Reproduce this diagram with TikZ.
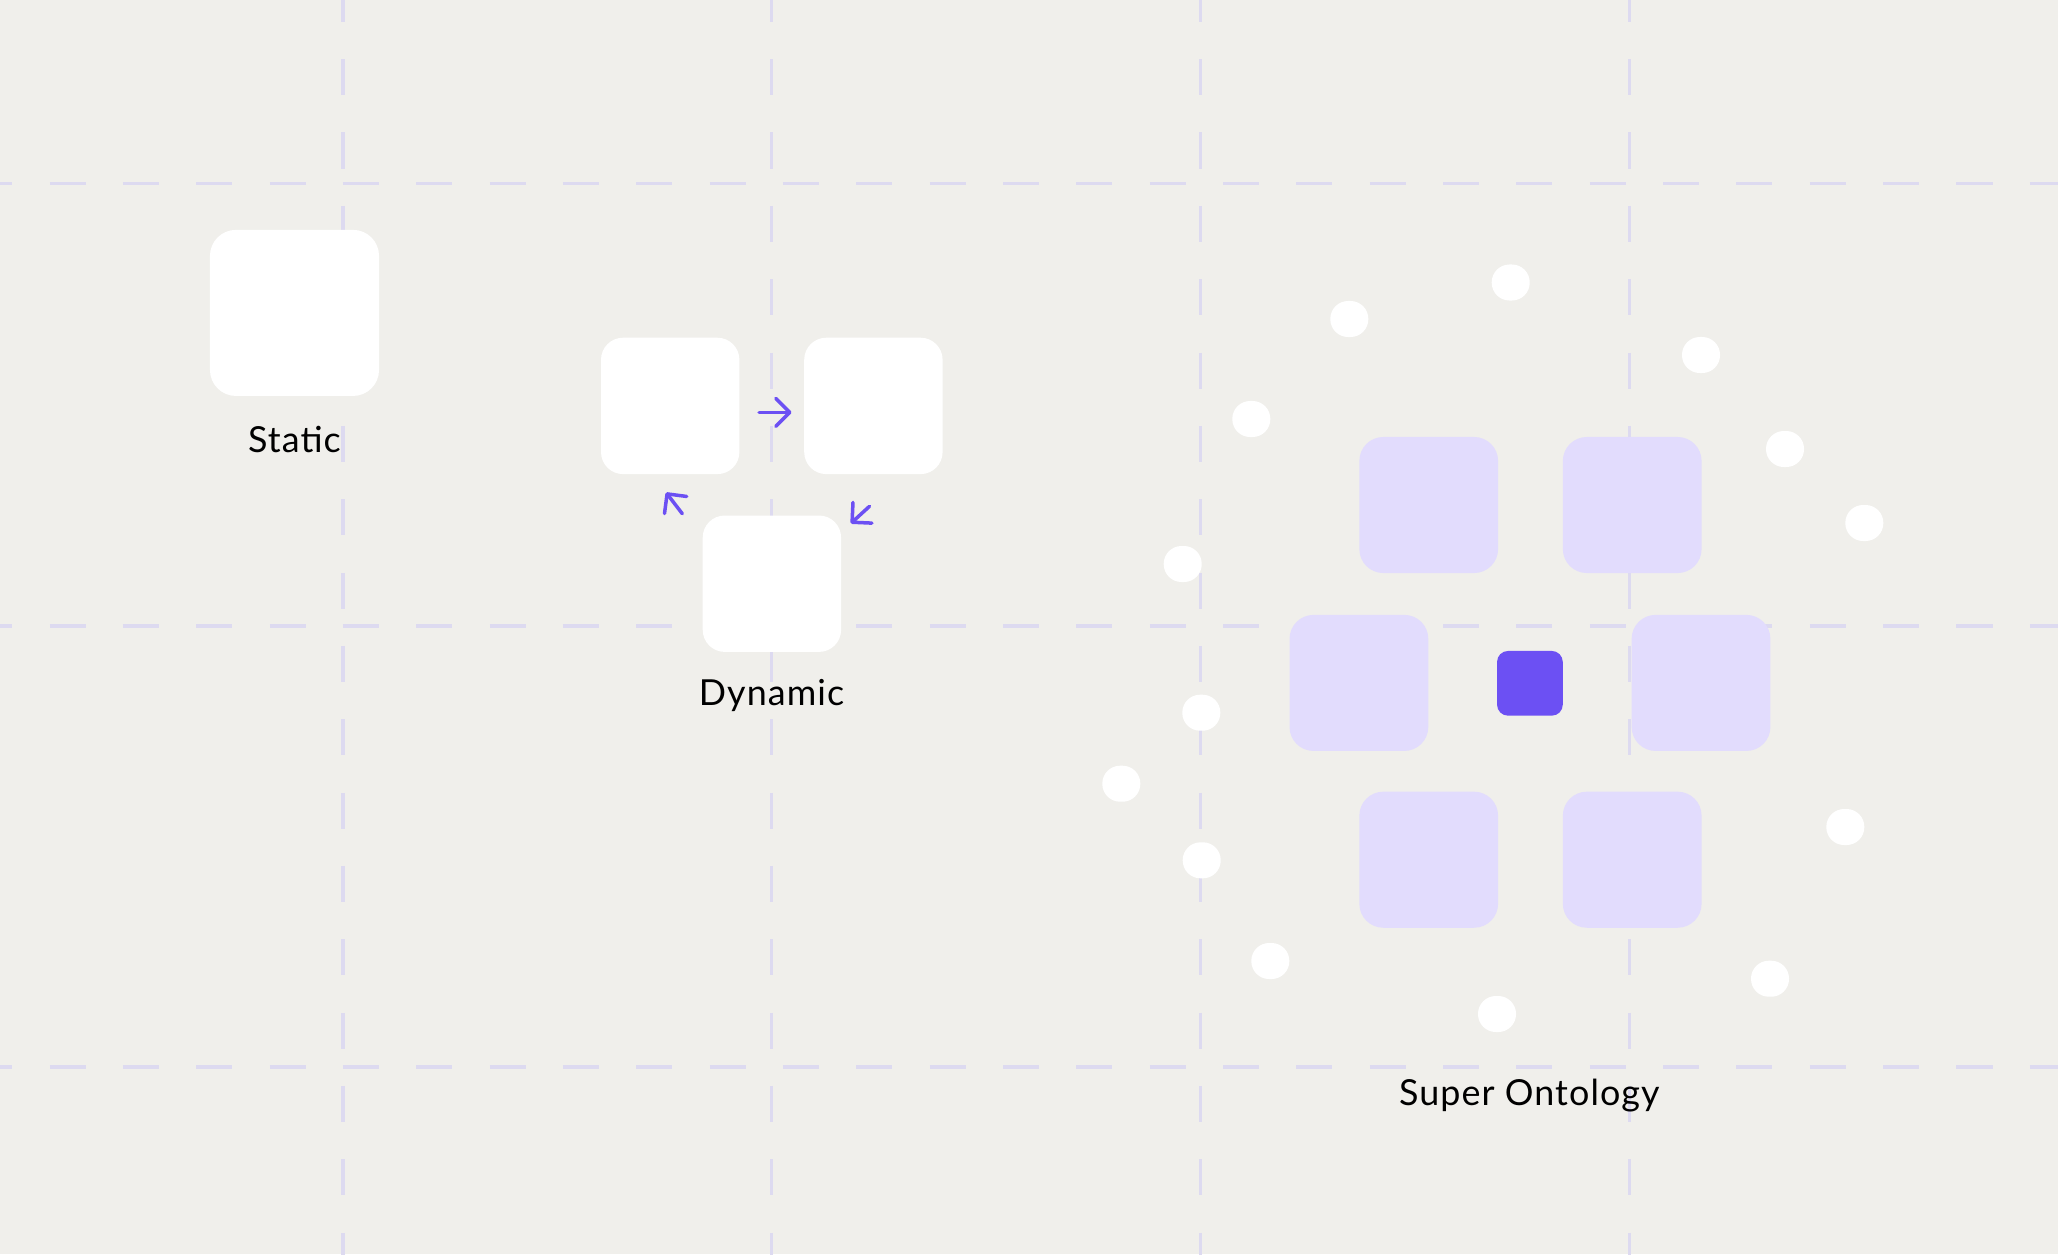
\documentclass[tikz,border=0pt]{standalone}
\usepackage{fontspec}
\setmainfont{Lato}[LetterSpace=3]
\usepackage{xcolor}
\usetikzlibrary{arrows.meta}
\definecolor{paper}{HTML}{F0EFEB}
\definecolor{gridlav}{HTML}{DDDAF0}
\definecolor{ontolav}{HTML}{E2DCFD}
\definecolor{corepurple}{HTML}{6C50F3}
\tikzset{
  grid line/.style={gridlav, line width=0.033cm, dash pattern=on 0.36cm off 0.373cm},
  white box/.style={fill=white, rounded corners=0.22cm, minimum width=1.383cm, minimum height=1.363cm, inner sep=0pt},
  big box/.style={white box, rounded corners=0.26cm, minimum width=1.69cm, minimum height=1.66cm},
  onto box/.style={white box, fill=ontolav, rounded corners=0.24cm, minimum width=1.387cm, minimum height=1.36cm},
  core box/.style={fill=corepurple, rounded corners=0.11cm, minimum width=0.657cm, minimum height=0.647cm, inner sep=0pt},
  onto dot/.style={fill=white, rounded corners=0.178cm, minimum width=0.38cm, minimum height=0.36cm, inner sep=0pt},
  cycle arrow/.style={corepurple, line width=0.035cm, line cap=round,
    -{Straight Barb[length=0.14cm, width=0.28cm, round]}},
  caption text/.style={font=\fontsize{10.2}{12}\selectfont, anchor=base, inner sep=0pt},
}

\begin{document}
\begin{tikzpicture}[x=0.01cm, y=-0.01cm]
                        \fill[paper] (0,0) rectangle (2058,1254);
                        \useasboundingbox (0,0) rectangle (2058,1254);
                        \foreach \gy in {183.5,626,1067}
                          \draw[grid line] (-23.8,\gy) -- (2080,\gy);
                        \foreach \gx in {343,771.5,1200.5,1629.3}
                          \draw[grid line] (\gx,-14.2) -- (\gx,1270);

                        \node[big box] (st) at (294.5,312.9) {};
                        \node[caption text] (stLbl) at (294.5,452) {Static};

                        \node[white box] (dynA) at (670.2,405.9) {};
                        \node[white box] (dynB) at (873.4,405.9) {};
                        \node[white box] (dynC) at (771.9,583.7) {};
                        \node[caption text] (dynLbl) at (771.5,705.7) {Dynamic};
                        \draw[cycle arrow] ([shift={(19,6.4)}]dynA.east) -- ([shift={(-12,6.4)}]dynB.west);
                        \draw[cycle arrow] ([shift={(-19.7,-1.1)}]dynC.north west) -- ([shift={(-4.2,17.7)}]dynA.south);
                        \draw[cycle arrow] ([shift={(-3.9,31.5)}]dynB.south) -- ([shift={(9,8.6)}]dynC.north east);

                        \node[onto box] (soTL) at (1428.7,505) {};
                        \node[onto box] (soTR) at (1632.2,505) {};
                        \node[onto box] (soML) at (1358.9,682.9) {};
                        \node[onto box] (soMR) at (1701,682.9) {};
                        \node[onto box] (soBL) at (1428.7,859.7) {};
                        \node[onto box] (soBR) at (1632.2,859.7) {};
                        \node[core box] (core) at (1529.9,683.3) {};
                        \foreach \dx/\dy [count=\i] in {1510.7/282.5, 1349.3/319, 1251.3/419, 1182.7/564,
                            1201.3/712.7, 1121.3/783.7, 1201.7/860.3, 1270.3/961, 1497/1014,
                            1770/978.7, 1845.3/827, 1864.3/523, 1785/449, 1701/355}
                          \node[onto dot] (d\i) at (\dx,\dy) {};
                        \node[caption text] (soLbl) at (1529.3,1105) {Super Ontology};
                    \end{tikzpicture}
\end{document}
